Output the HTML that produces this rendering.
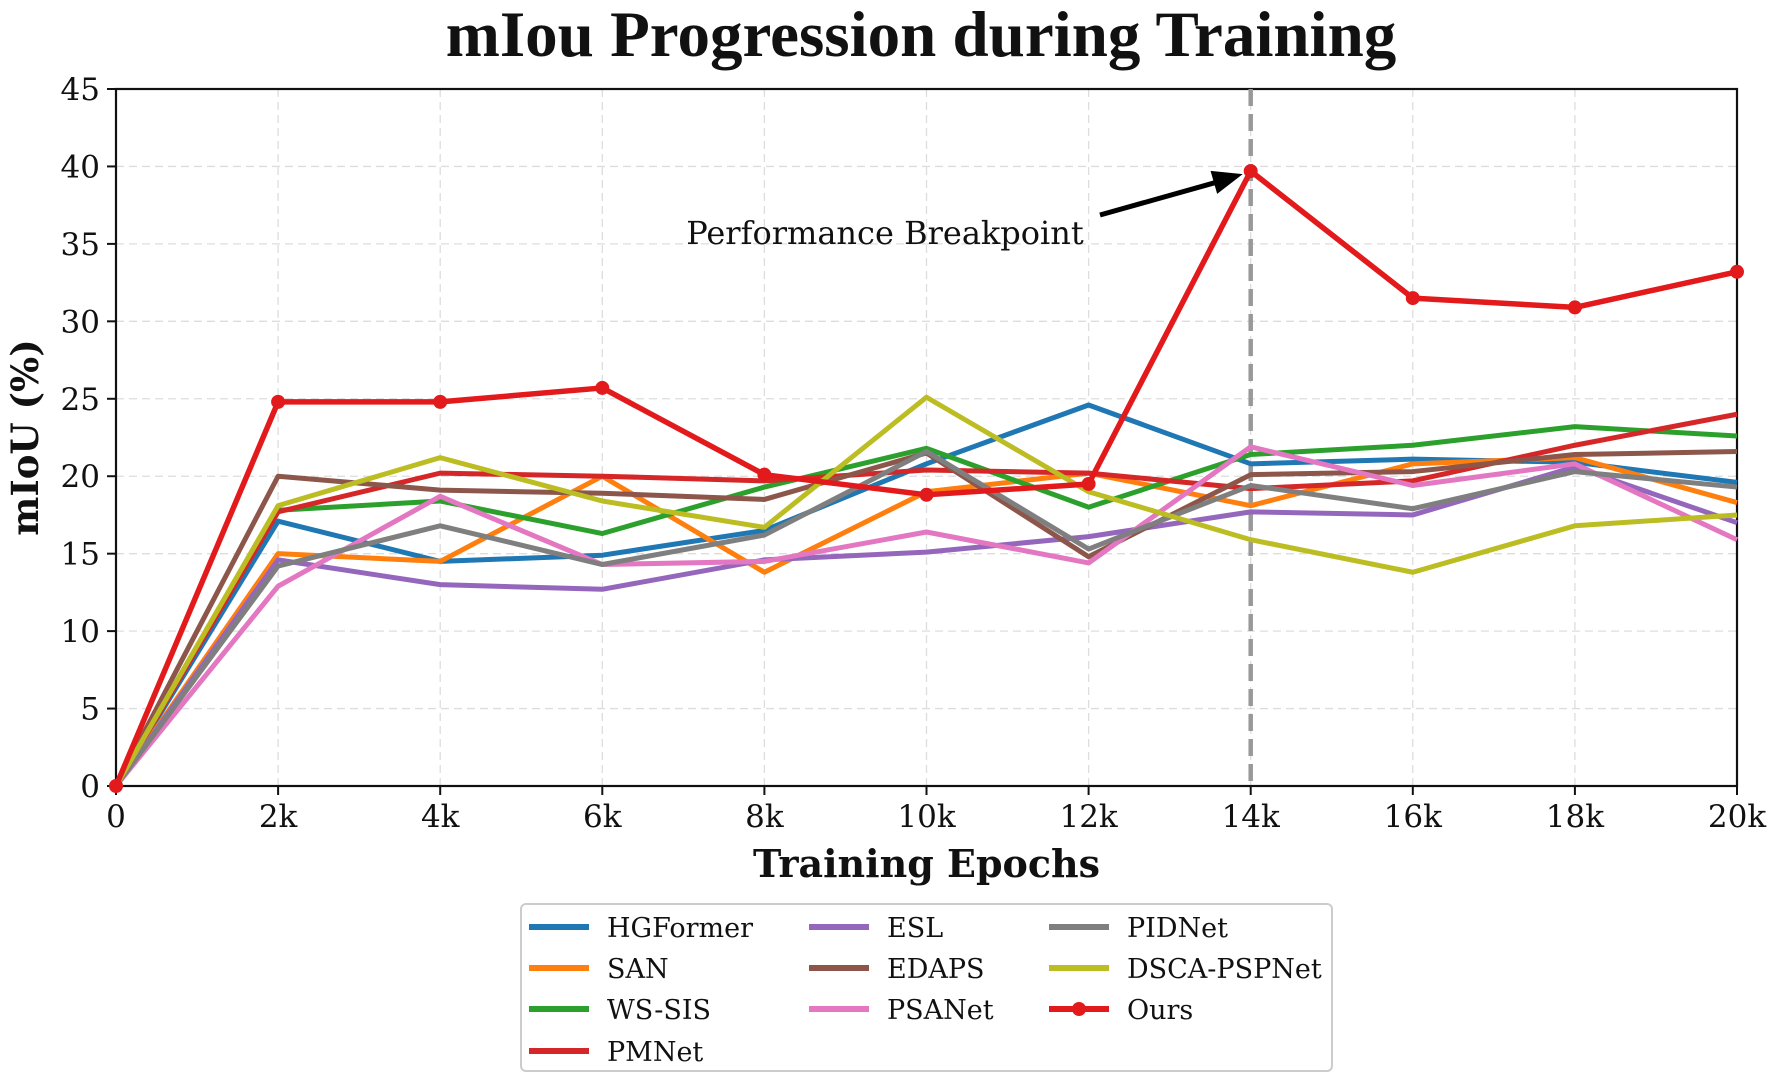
<!DOCTYPE html>
<html><head><meta charset="utf-8"><style>
html,body{margin:0;padding:0;background:#fff;}
svg{display:block;}
text{font-family:"DejaVu Serif","Liberation Serif",serif;fill:#111;}
</style></head><body>
<svg id="chart" width="1772" height="1080" viewBox="0 0 1772 1080">
<text x="921" y="56" text-anchor="middle" style="font-family:'Liberation Serif',serif;font-weight:bold;font-size:65px">mIou Progression during Training</text>
<g id="grid"></g>
<g id="axes"></g>
<g id="series"></g>
<g id="legend"></g>
</svg>
<script>
const categories = [0,2000,4000,6000,8000,10000,12000,14000,16000,18000,20000];
const xTickLabels = ["0","2k","4k","6k","8k","10k","12k","14k","16k","18k","20k"];
const yTicks = [0,5,10,15,20,25,30,35,40,45];
const seriesNames = ["HGFormer","SAN","WS-SIS","PMNet","ESL","EDAPS","PSANet","PIDNet","DSCA-PSPNet","Ours"];
const hgformer = [0,17.1,14.5,14.9,16.5,20.8,24.6,20.8,21.1,20.9,19.6];
const san = [0,15.0,14.5,20.0,13.8,19.0,20.2,18.1,20.8,21.2,18.3];
const wssis = [0,17.8,18.4,16.3,19.3,21.8,18.0,21.4,22.0,23.2,22.6];
const pmnet = [0,17.7,20.2,20.0,19.7,20.4,20.2,19.2,19.7,22.0,24.0];
const esl = [0,14.6,13.0,12.7,14.6,15.1,16.1,17.7,17.5,20.6,17.0];
const edaps = [0,20.0,19.1,18.9,18.5,21.5,14.8,20.1,20.3,21.4,21.6];
const psanet = [0,12.9,18.7,14.3,14.5,16.4,14.4,21.9,19.4,20.8,15.9];
const pidnet = [0,14.2,16.8,14.3,16.2,21.6,15.3,19.4,17.9,20.3,19.3];
const dsca = [0,18.1,21.2,18.4,16.7,25.1,19.0,15.9,13.8,16.8,17.5];
const ours = [0,24.8,24.8,25.7,20.1,18.8,19.5,39.7,31.5,30.9,33.2];
const breakpointX = 14000;

const NS="http://www.w3.org/2000/svg";
const L=116,R=1737,T=89,B=786;
const xs=v=>L+(v-0)/(20000)*(R-L);
const ys=v=>B-(v/45)*(B-T);
function mk(tag,attrs,parent){const e=document.createElementNS(NS,tag);for(const k in attrs)e.setAttribute(k,attrs[k]);parent.appendChild(e);return e;}
const grid=document.getElementById('grid'),axes=document.getElementById('axes'),ser=document.getElementById('series'),leg=document.getElementById('legend');
categories.forEach((c,i)=>{
  const g=mk('line',{x1:xs(c),x2:xs(c),y1:T,y2:B,stroke:'#ddd','stroke-width':1.3,'stroke-dasharray':'8,5'},grid);
  
  
  const t=mk('line',{x1:xs(c),x2:xs(c),y1:B,y2:B+9,stroke:'#111','stroke-width':2},axes);
  
  
  const tx=mk('text',{x:xs(c),y:B+41,'text-anchor':'middle','font-size':31},axes);
  tx.textContent=xTickLabels[i];
  
  
});
yTicks.forEach(v=>{
  const g=mk('line',{x1:L,x2:R,y1:ys(v),y2:ys(v),stroke:'#ddd','stroke-width':1.3,'stroke-dasharray':'8,5'},grid);
  
  
  const t=mk('line',{x1:L-9,x2:L,y1:ys(v),y2:ys(v),stroke:'#111','stroke-width':2},axes);
  
  
  const tx=mk('text',{x:L-16,y:ys(v)+11,'text-anchor':'end','font-size':31},axes);
  tx.textContent=v;
  
  
});
const frame=mk('rect',{x:L,y:T,width:R-L,height:B-T,fill:'none',stroke:'#111','stroke-width':2.2},axes);


const xl=mk('text',{x:(L+R)/2,y:877,'text-anchor':'middle','font-size':38,'font-weight':'bold'},axes);
xl.textContent='Training Epochs';


const yl=mk('text',{x:0,y:0,'text-anchor':'middle','font-size':37,'font-weight':'bold',transform:`translate(38,${(T+B)/2}) rotate(-90)`},axes);
yl.textContent='mIoU (%)';



const vline=mk('line',{x1:xs(breakpointX),x2:xs(breakpointX),y1:T,y2:B,stroke:'#999','stroke-width':4.5,'stroke-dasharray':'17,8'},ser);



const colors=['#1f77b4','#ff7f0e','#2ca02c','#d62728','#9467bd','#8c564b','#e377c2','#7f7f7f','#bcbd22','#e31a1c'];
const data=[hgformer,san,wssis,pmnet,esl,edaps,psanet,pidnet,dsca,ours];
data.forEach((arr,si)=>{
  const pts=arr.map((v,i)=>xs(categories[i])+','+ys(v)).join(' ');
  const pl=mk('polyline',{points:pts,fill:'none',stroke:colors[si],'stroke-width':si==9?5.5:5,'stroke-linejoin':'round'},ser);
  
  
  if(si==9){arr.forEach((v,i)=>{
    const c=mk('circle',{cx:xs(categories[i]),cy:ys(v),r:7,fill:colors[si]},ser);
    
    
  });}
});
const ann=mk('text',{x:885,y:244,'text-anchor':'middle','font-size':32},ser);
ann.textContent='Performance Breakpoint';


const ax1=1100,ay1=215,ax2=xs(breakpointX)-8,ay2=ys(39.7)+3;
const ar=mk('line',{x1:ax1,y1:ay1,x2:ax2-22,y2:ay2+7,stroke:'#000','stroke-width':5},ser);


const ang=Math.atan2(ay2-ay1,ax2-ax1);
const hx=ax2-30*Math.cos(ang),hy=ay2-30*Math.sin(ang);
const px=Math.sin(ang)*12,py=-Math.cos(ang)*12;
const ah=mk('polygon',{points:`${ax2},${ay2} ${hx+px},${hy+py} ${hx-px},${hy-py}`,fill:'#000'},ser);



const lb=mk('rect',{x:521,y:904,width:811,height:167,rx:5,fill:'#fff',stroke:'#ccc','stroke-width':2},leg);


const colX=[529,809,1049],rowY=[927,968,1009,1051];
const order=[[0,0,0],[1,0,1],[2,0,2],[3,0,3],[4,1,0],[5,1,1],[6,1,2],[7,2,0],[8,2,1],[9,2,2]];
order.forEach(([si,c,r])=>{
  const g=mk('g',{},leg);
  
  
  const x=colX[c],y=rowY[r];
  mk('line',{x1:x,x2:x+60,y1:y,y2:y,stroke:colors[si],'stroke-width':6},g);
  if(si==9)mk('circle',{cx:x+30,cy:y,r:7,fill:colors[si]},g);
  const t=mk('text',{x:x+78,y:y+10,'font-size':27},g);
  t.textContent=seriesNames[si];
});
</script>
</body></html>
